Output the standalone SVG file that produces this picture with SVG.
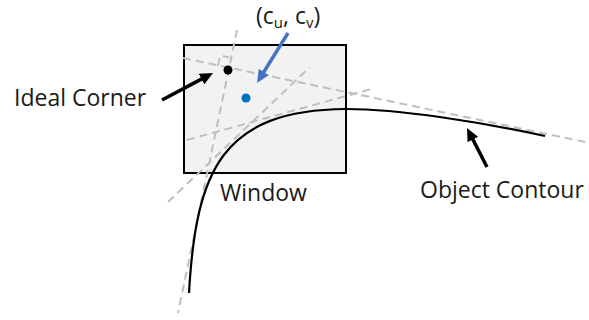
<svg xmlns="http://www.w3.org/2000/svg" width="589" height="320" viewBox="0 0 589 320">
<style>
.lbl{font-family:"Open Sans","Liberation Sans",sans-serif;font-size:23px;fill:#1a1a1a}
.dash{fill:none;stroke:#bfbfbf;stroke-width:2;stroke-dasharray:8 5}
.arr{fill:none;stroke:#000;stroke-width:3.5}
.arrb{fill:none;stroke:#4472c4;stroke-width:3.5}
</style>
<defs>
<marker id="hk" markerUnits="userSpaceOnUse" markerWidth="13" markerHeight="12" refX="2" refY="6" orient="auto"><path d="M0,0 L13,6 L0,12 z" fill="#000"/></marker>
<marker id="hb" markerUnits="userSpaceOnUse" markerWidth="13" markerHeight="12" refX="2" refY="6" orient="auto"><path d="M0,0 L13,6 L0,12 z" fill="#4472c4"/></marker>
</defs>
<g id="window">
<rect x="184" y="45" width="162" height="128" fill="#f2f2f2" stroke="#000" stroke-width="2"/>
<text class="lbl" x="220" y="201">Window</text>
</g>
<g id="tangents">
<line class="dash" x1="237" y1="30" x2="178" y2="313"/>
<line class="dash" x1="183" y1="58" x2="590" y2="143"/>
<line class="dash" x1="168" y1="202" x2="310" y2="67"/>
<line class="dash" x1="187" y1="140" x2="375" y2="88"/>
<path class="dash" d="M218,66 L220,56 L229,57" stroke-dasharray="6 3"/>
</g>
<g id="object-contour">
<path d="M189,293 C196,170 222,110 346,109 C400,109 480,122 545,136" fill="none" stroke="#000" stroke-width="2.2"/>
<text class="lbl" x="420" y="198">Object Contour</text>
</g>
<g id="ideal-corner">
<circle cx="228" cy="70" r="4.5" fill="#000"/>
<text class="lbl" x="14" y="106">Ideal Corner</text>
</g>
<g id="center">
<circle cx="246" cy="98" r="4.5" fill="#0070c0"/>
<text class="lbl" x="256" y="24" font-size="22">(c<tspan font-size="15" dy="4">u</tspan><tspan dy="-4">, c</tspan><tspan font-size="15" dy="4">v</tspan><tspan dy="-4">)</tspan></text>
</g>
<g id="connectors">
<line class="arr" x1="162" y1="100" x2="203.3" y2="78.1" marker-end="url(#hk)"/>
<line class="arr" x1="487" y1="167" x2="472" y2="137.8" marker-end="url(#hk)"/>
<line class="arrb" x1="288" y1="33" x2="262.8" y2="73.6" marker-end="url(#hb)"/>
</g>
</svg>
